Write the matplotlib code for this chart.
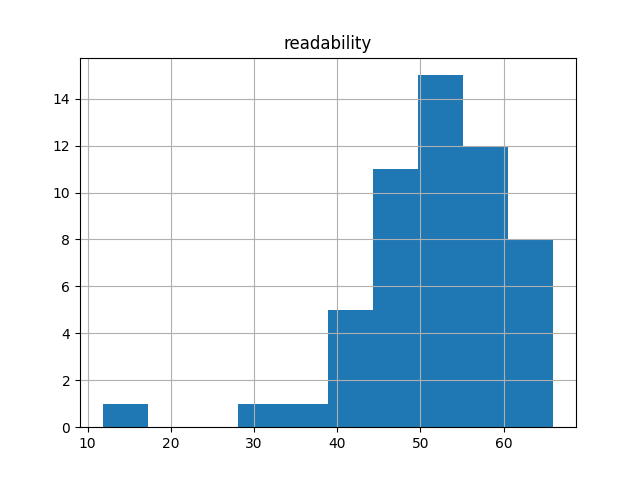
import matplotlib
matplotlib.use("Agg")
import matplotlib.pyplot as plt
import pandas as pd

# readability scores (estimated from the histogram)
low_scores = [11.8, 30.5, 36.2]
scores_40s = [39.5, 41.2, 42.0, 43.1, 44.0,
              44.8, 45.3, 45.9, 46.4, 46.8, 47.2, 47.7, 48.3, 48.6, 49.1, 49.5]
scores_50s = [50.0, 50.4, 50.8, 51.1, 51.5, 51.9, 52.3, 52.6, 53.0, 53.3,
              53.7, 54.0, 54.3, 54.6, 54.9,
              55.5, 55.9, 56.3, 56.8, 57.2, 57.6, 58.0, 58.5, 59.0, 59.4, 59.9]
scores_60s = [60.3, 61.0, 61.7, 62.4, 63.0, 63.6, 64.3, 65.1, 66.0]

df = pd.DataFrame({"readability": low_scores + scores_40s + scores_50s + scores_60s})

fig = plt.figure(figsize=(6.4, 4.8), dpi=100)
ax = fig.add_subplot(111)
df.hist(column="readability", ax=ax)

plt.savefig("out.png")
